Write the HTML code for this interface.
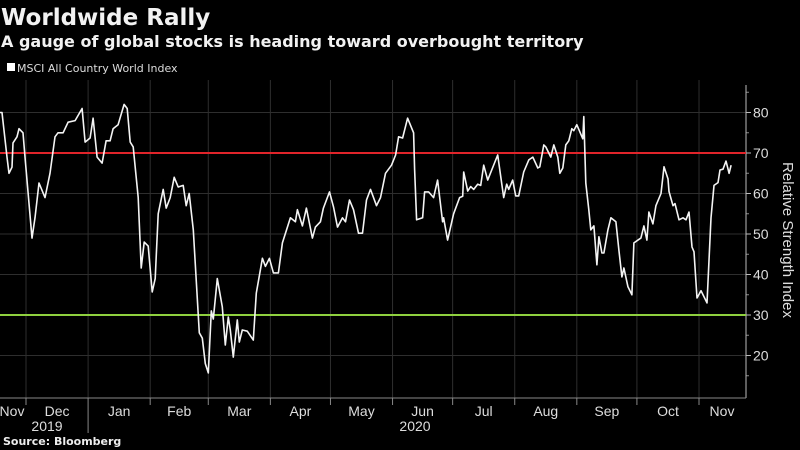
<!DOCTYPE html>
<html><head><meta charset="utf-8">
<style>
html,body{margin:0;padding:0;background:#000;}
body{width:800px;height:450px;overflow:hidden;font-family:"Liberation Sans","DejaVu Sans",sans-serif;color:#fff;}
</style></head>
<body>
<svg id="chart" width="800" height="450" xmlns="http://www.w3.org/2000/svg" style="display:block">
<rect width="800" height="450" fill="#000"/>
<text x="1" y="25" font-size="23" font-weight="bold" fill="#f2f2f2" font-family="DejaVu Sans, sans-serif">Worldwide Rally</text>
<text x="1" y="47" font-size="16" font-weight="bold" fill="#f2f2f2" font-family="DejaVu Sans, sans-serif">A gauge of global stocks is heading toward overbought territory</text>
<rect x="7" y="63" width="8" height="8" fill="#fff"/>
<text x="17" y="72" font-size="11" fill="#ddd" font-family="DejaVu Sans, sans-serif">MSCI All Country World Index</text>
<g id="grid"></g>
<g id="axes"></g>
<g id="series"></g>
<text transform="translate(783,240) rotate(90)" text-anchor="middle" font-size="15" fill="#ddd">Relative Strength Index</text>
<text x="3" y="445" font-size="11" font-weight="bold" fill="#eee" font-family="DejaVu Sans, sans-serif">Source: Bloomberg</text>
</svg>
<script>
// days since 2019-11-01
const days=[17,18,20.5,21.5,23,23.5,25.5,26.5,28.5,29.5,33,34.5,36.5,39.5,42,44.5,46,48.5,51,54.5,58,59.5,62,63.5,65.5,68,70,72,73.5,76,79,80.5,82,83.5,86,87.5,89,91,93,94.5,96,98.5,100,102,104,106,108.5,110,111.5,113.5,116.5,118,119.5,121,122.5,123.5,125.5,128,129.5,131,132,133.5,135.5,136.5,138,140.5,143.5,145,148,149.5,151.5,153.5,156,158,162,164.5,165.5,168,170,173,174.5,177,178.5,181.5,183.5,185.5,188,189.5,191.5,193.5,196,198,200,202,205,207,209.5,212.5,214.5,216,218,220.5,223.5,224,225,228,229,231,233.5,235.5,238,238.5,240.5,243.5,246.5,248,248.5,250.5,252,253.5,255.5,257,258.5,260.5,265.5,268.5,270,271,273,274.5,276,278.5,281,283,285.5,286.5,288.5,289.5,292,293.5,295.5,296.5,298,299.5,301,302.5,303.5,305,308,308.5,309.5,311,312,313.5,315,316,317.5,318.5,320.5,322,324.5,326,327.5,328.5,330.5,332.5,333.5,335.5,337,338.5,340,341,343,344.5,347,348.5,350.5,351,353,354,356,358,359.5,361,362.5,363.5,365,367,370,372,373.5,375.5,376.5,378,379.5,381,382];
const rsi=[80,80,69,65,66.5,72.5,74,76,75,69,49,54,62.6,59,65,74,75,75,77.6,78,81,72.7,73.7,78.6,69,67.5,73,73,76,77,82,81,72.7,71.5,59,41.6,48,47,35.7,39,55,61,56.4,59,64,61.6,62,57,60,51,25.6,24.3,18,15.7,31,29,39,32,22.6,29.5,26.3,19.6,28.8,23.3,26.3,26,23.8,35.4,44,42,44,40.4,40.4,47.8,54,53,56,52,56.4,49,51.7,53,56.4,60.4,56.7,51.7,54,53,58.4,56,50.2,50.2,58.4,61,57,59,65,67,69.5,74,73.7,78.6,75,66,53.5,54,60.4,60.4,59,63.3,53,54,48.5,55,59,59.3,65.3,60.6,61.7,61,62.3,62,67,63.3,69.5,59,62.3,61,63.3,59.4,59.4,65.3,68.3,69,66.3,66.6,72,71.5,69,72,69,65,66.3,72,73,76,75.5,77,73.5,79,62.6,56,51,52,42.4,49.3,45.3,45.3,51,54,53,46,39.4,41.6,37,35,47.8,48.5,49,52,48.5,55.4,52.5,57,60,66.6,63.6,60.5,57,57.5,53.5,54,53.5,55.4,46.8,45.6,34.2,36,33,54,62,62.7,65.8,66,68,65,67,67.5];
const yTicks=[20,30,40,50,60,70,80];
const monthLabels=["Nov","Dec","Jan","Feb","Mar","Apr","May","Jun","Jul","Aug","Sep","Oct","Nov"];
const monthStarts=[0,30,61,92,121,152,182,213,243,274,305,335,366,396];
const refLines=[70,30];
const NS="http://www.w3.org/2000/svg";
const xS=d=>26+(d-30)*2.003;
const yS=v=>153+(70-v)*4.05;
const AX=746,TOP=80,BOT=398;
function mk(tag,attrs,parent){const e=document.createElementNS(NS,tag);for(const k in attrs)e.setAttribute(k,attrs[k]);parent.appendChild(e);return e;}
const grid=document.getElementById('grid'),axes=document.getElementById('axes'),series=document.getElementById('series');
yTicks.forEach(t=>{
  const l=mk('line',{x1:0,x2:AX,y1:yS(t),y2:yS(t),stroke:'#2e2e2e','stroke-width':1},grid);
  
  
  const tk=mk('line',{x1:AX,x2:AX+5,y1:yS(t),y2:yS(t),stroke:'#bbb'},axes);
  
  
  const tx=mk('text',{x:AX+7,y:yS(t)+5,'font-size':14,fill:'#ddd'},axes);
  tx.textContent=t;
  
  
});
for(let v=15;v<=85;v+=10){const m=mk('line',{x1:AX,x2:AX+3,y1:yS(v),y2:yS(v),stroke:'#888'},axes);
  
  }
for(let i=1;i<monthStarts.length-1;i++){
  const x=xS(monthStarts[i]);
  const g=mk('line',{x1:x,x2:x,y1:TOP,y2:BOT,stroke:'#2e2e2e'},grid);
  
  
  const tk=mk('line',{x1:x,x2:x,y1:BOT,y2:monthStarts[i]===61?433:405,stroke:'#888'},axes);
  
  
}
const al=mk('line',{x1:AX,x2:AX,y1:85,y2:BOT,stroke:'#bbb'},axes);


const bl=mk('line',{x1:0,x2:AX,y1:BOT,y2:BOT,stroke:'#888'},axes);


monthLabels.forEach((m,i)=>{
  let cx=(xS(Math.max(monthStarts[i],-5))+xS(Math.min(monthStarts[i+1],380)))/2;
  if(i===0)cx=12; if(i===12)cx=722;
  const t=mk('text',{x:cx,y:416,'font-size':14,fill:'#ddd','text-anchor':'middle'},axes);
  t.textContent=m;
  
  
});
[["2019",47],["2020",415]].forEach(([y,x])=>{
  const t=mk('text',{x:x,y:431,'font-size':14,fill:'#ddd','text-anchor':'middle'},axes);
  t.textContent=y;
  
  
});
refLines.forEach((v,i)=>{
  const l=mk('line',{x1:0,x2:AX,y1:yS(v),y2:yS(v),stroke:i===0?'#e0242a':'#8fd13f','stroke-width':2},series);
  
  
});
const pts=days.map((d,i)=>xS(d).toFixed(1)+','+yS(rsi[i]).toFixed(1)).join(' ');
const pl=mk('polyline',{points:pts,fill:'none',stroke:'#f4f4f4','stroke-width':1.6,'stroke-linejoin':'round'},series);


</script>
</body></html>
